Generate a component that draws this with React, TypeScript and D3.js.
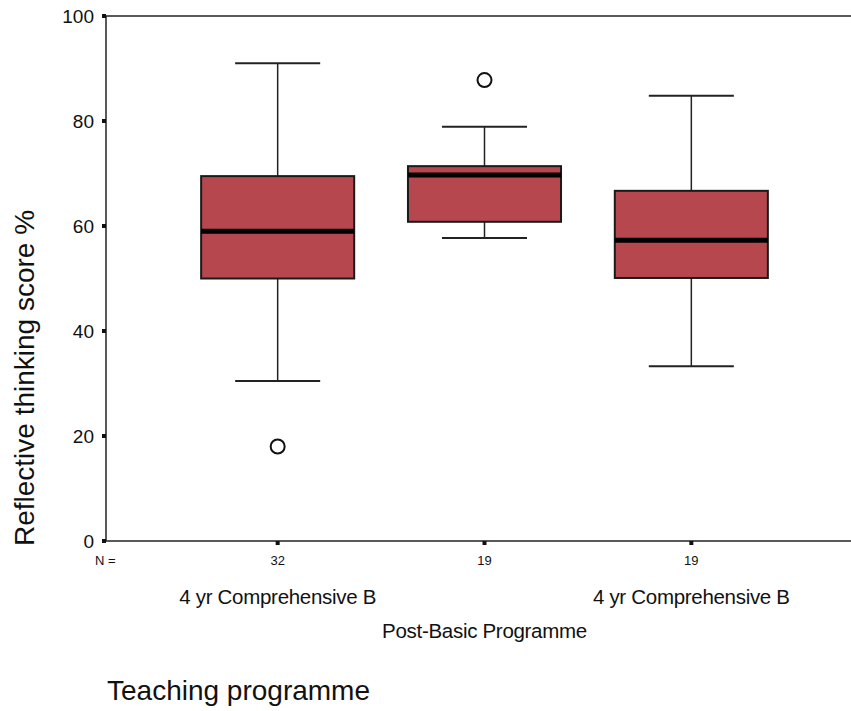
import React, { useEffect, useRef } from 'react';
import * as d3 from 'd3';

const categories = ['4 yr Comprehensive B', 'Post-Basic Programme', '4 yr Comprehensive B '];
const counts = [32, 19, 19];
const whiskerLow = [30.5, 57.7, 33.3];
const q1 = [50, 60.8, 50.1];
const median = [59, 69.7, 57.3];
const q3 = [69.5, 71.4, 66.7];
const whiskerHigh = [91, 78.9, 84.8];
const outliers = [[18], [87.8], []];
const yTicks = [0, 20, 40, 60, 80, 100];

export default function App() {
  const ref = useRef<SVGSVGElement>(null);

  useEffect(() => {
    const svg = d3.select(ref.current);
    svg.selectAll('*').remove();

    const left = 106;
    const top = 16;
    const bottom = 541;
    const font = 'Liberation Sans, Arial, sans-serif';

    const x = d3.scaleBand().domain(categories).range([left, 863]).paddingInner(0.26).paddingOuter(0.46);
    const y = d3.scaleLinear().domain([0, 100]).range([bottom, top]);
    const bw = x.bandwidth();

    const data = categories.map((c, i) => ({
      c, i, cx: (x(c) as number) + bw / 2,
    }));

    const g = svg.append('g');

    // frame lines
    g.append('line').attr('x1', left).attr('x2', 851).attr('y1', top).attr('y2', top)
      .attr('stroke', '#222').attr('stroke-width', 1.5);
    g.append('line').attr('x1', left).attr('x2', 851).attr('y1', bottom).attr('y2', bottom)
      .attr('stroke', '#222').attr('stroke-width', 1.5);
    g.append('line').attr('x1', left).attr('x2', left).attr('y1', top).attr('y2', bottom)
      .attr('stroke', '#222').attr('stroke-width', 1.5);

    // y ticks
    yTicks.forEach((t) => {
      g.append('rect').attr('x', left - 4).attr('y', y(t) - 2).attr('width', 4).attr('height', 4).attr('fill', '#111');
      g.append('text').attr('x', 94).attr('y', y(t) + 7).attr('text-anchor', 'end')
        .attr('font-family', font).attr('font-size', 19).attr('fill', '#111')
        .text(t);
    });

    // x ticks
    data.forEach((d) => {
      g.append('rect').attr('x', d.cx - 2).attr('y', bottom).attr('width', 4).attr('height', 4).attr('fill', '#111');
    });

    const boxes = g.selectAll('g.box').data(data).enter().append('g');

    boxes.append('line')
      .attr('x1', (d) => d.cx).attr('x2', (d) => d.cx)
      .attr('y1', (d) => y(whiskerHigh[d.i])).attr('y2', (d) => y(q3[d.i]))
      .attr('stroke', '#222').attr('stroke-width', 1.5);
    boxes.append('line')
      .attr('x1', (d) => d.cx).attr('x2', (d) => d.cx)
      .attr('y1', (d) => y(q1[d.i])).attr('y2', (d) => y(whiskerLow[d.i]))
      .attr('stroke', '#222').attr('stroke-width', 1.5);
    [whiskerHigh, whiskerLow].forEach((arr) => {
      boxes.append('line')
        .attr('x1', (d) => d.cx - bw / 3.6).attr('x2', (d) => d.cx + bw / 3.6)
        .attr('y1', (d) => y(arr[d.i])).attr('y2', (d) => y(arr[d.i]))
        .attr('stroke', '#222').attr('stroke-width', 2);
    });
    boxes.append('rect')
      .attr('x', (d) => x(d.c) as number).attr('width', bw)
      .attr('y', (d) => y(q3[d.i])).attr('height', (d) => y(q1[d.i]) - y(q3[d.i]))
      .attr('fill', '#b6474e').attr('stroke', '#1a1a1a').attr('stroke-width', 2);
    boxes.append('line')
      .attr('x1', (d) => x(d.c) as number).attr('x2', (d) => (x(d.c) as number) + bw)
      .attr('y1', (d) => y(median[d.i])).attr('y2', (d) => y(median[d.i]))
      .attr('stroke', '#000').attr('stroke-width', 5);

    data.forEach((d) => {
      outliers[d.i].forEach((v) => {
        g.append('circle').attr('cx', d.cx).attr('cy', y(v)).attr('r', 7)
          .attr('fill', 'none').attr('stroke', '#111').attr('stroke-width', 2);
      });
    });

    g.append('text').attr('x', 95).attr('y', 565).attr('font-family', font).attr('font-size', 13).attr('fill', '#111').text('N =');
    data.forEach((d) => {
      g.append('text').attr('x', d.cx).attr('y', 565).attr('text-anchor', 'middle')
        .attr('font-family', font).attr('font-size', 13).attr('fill', '#111').text(counts[d.i]);
      g.append('text').attr('x', d.cx).attr('y', d.i === 1 ? 638 : 604).attr('text-anchor', 'middle')
        .attr('font-family', font).attr('font-size', 20.5).attr('letter-spacing', -0.3).attr('fill', '#111')
        .text(d.c.trim());
    });

    g.append('text').attr('transform', `translate(34, 378) rotate(-90)`)
      .attr('text-anchor', 'middle').attr('font-family', font).attr('font-size', 28).attr('fill', '#111')
      .text('Reflective thinking score %');

    g.append('text').attr('x', 107).attr('y', 700).attr('font-family', font).attr('font-size', 28).attr('fill', '#111')
      .text('Teaching programme');
  }, []);

  return (
    <svg ref={ref} width={851} height={711} style={{ position: 'absolute', left: 0, top: 0, background: '#fff' }} />
  );
}
